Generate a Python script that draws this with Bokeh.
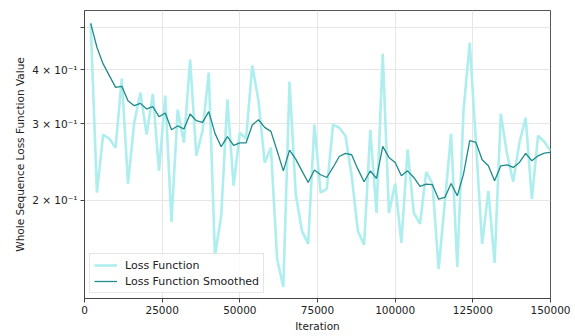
from bokeh.plotting import figure
from bokeh.models import FixedTicker, Legend, LegendItem, BasicTickFormatter
from bokeh.embed import file_html
from bokeh.resources import INLINE

iterations = [2000, 4000, 6000, 8000, 10000, 12000, 14000, 16000, 18000, 20000,
              22000, 24000, 26000, 28000, 30000, 32000, 34000, 36000, 38000, 40000,
              42000, 44000, 46000, 48000, 50000, 52000, 54000, 56000, 58000, 60000,
              62000, 64000, 66000, 68000, 70000, 72000, 74000, 76000, 78000, 80000,
              82000, 84000, 86000, 88000, 90000, 92000, 94000, 96000, 98000, 100000,
              102000, 104000, 106000, 108000, 110000, 112000, 114000, 116000, 118000, 120000,
              122000, 124000, 126000, 128000, 130000, 132000, 134000, 136000, 138000, 140000,
              142000, 144000, 146000, 148000, 150000]

loss = [0.511, 0.2084, 0.2834, 0.2773, 0.2645, 0.3814, 0.2185, 0.302, 0.354, 0.2834,
        0.352, 0.234, 0.3484, 0.1786, 0.3236, 0.2716, 0.4218, 0.2534, 0.2894, 0.3937,
        0.1491, 0.1844, 0.3411, 0.2162, 0.2863, 0.2773, 0.4086, 0.3393, 0.2443, 0.2645,
        0.1467, 0.1265, 0.3754, 0.2072, 0.1702, 0.1589, 0.2988, 0.2084, 0.2128, 0.2988,
        0.2940, 0.2818, 0.2279, 0.1702, 0.158, 0.2909, 0.1873, 0.4354, 0.1873, 0.2185,
        0.1597, 0.2617, 0.1873, 0.1767, 0.2328, 0.2185, 0.1391, 0.1986, 0.2848, 0.1406,
        0.3219, 0.4616, 0.2716, 0.1589, 0.2105, 0.1437, 0.3167, 0.2562, 0.2208, 0.2716,
        0.31, 0.2018, 0.2818, 0.2730, 0.2603]

loss_smoothed = [0.511, 0.4502, 0.4122, 0.3875, 0.3641, 0.3661, 0.3393, 0.3304, 0.3345, 0.3247,
                 0.3287, 0.3117, 0.3179, 0.2909, 0.2968, 0.292, 0.3162, 0.3051, 0.3024, 0.3201,
                 0.2853, 0.2659, 0.2804, 0.2677, 0.2712, 0.2712, 0.2984, 0.3067, 0.2945, 0.2884,
                 0.2603, 0.234, 0.2612, 0.2490, 0.234, 0.22, 0.2350, 0.2292, 0.2259, 0.2382,
                 0.2525, 0.2566, 0.2548, 0.2361, 0.2208, 0.234, 0.2247, 0.2663, 0.2512, 0.2446,
                 0.2279, 0.234, 0.2259, 0.2154, 0.2182, 0.2174, 0.2014, 0.2032, 0.2189, 0.205,
                 0.23, 0.2745, 0.272, 0.2481, 0.2403, 0.222, 0.2403, 0.2416, 0.2382, 0.2446,
                 0.2566, 0.2468, 0.2534, 0.2571, 0.2579]

x_ticks = [0, 25000, 50000, 75000, 100000, 125000, 150000]
y_ticks = [0.2, 0.3, 0.4, 0.5]
y_tick_labels = {0.2: "2 × 10⁻¹", 0.3: "3 × 10⁻¹", 0.4: "4 × 10⁻¹", 0.5: ""}

FONT = "DejaVu Sans"

p = figure(width=575, height=336, output_backend="svg", toolbar_location=None,
           y_axis_type="log", x_range=(0, 150000), y_range=(0.119, 0.547),
           min_border_left=84, min_border_right=25, min_border_top=10, min_border_bottom=38)

r1 = p.line(iterations, loss, line_color="#aeeeee", line_width=2.6)
r2 = p.line(iterations, loss_smoothed, line_color="#1f8a8a", line_width=1.3)

p.xaxis.ticker = FixedTicker(ticks=x_ticks)
p.xaxis.formatter = BasicTickFormatter(use_scientific=False)
p.yaxis.ticker = FixedTicker(ticks=y_ticks)
p.yaxis.major_label_overrides = y_tick_labels

p.xaxis.axis_label = "Iteration"
p.yaxis.axis_label = "Whole Sequence Loss Function Value"

for ax in (p.xaxis, p.yaxis):
    ax.axis_label_text_font = FONT
    ax.axis_label_text_font_size = "10.5px"
    ax.axis_label_text_font_style = "normal"
    ax.axis_label_text_color = "#222222"
    ax.major_label_text_font = FONT
    ax.major_label_text_font_size = "10.5px"
    ax.major_label_text_color = "#222222"
    ax.major_tick_out = 4
    ax.major_tick_in = 0
    ax.minor_tick_line_color = None
    ax.axis_line_color = "#444444"
    ax.major_tick_line_color = "#444444"
    ax.major_label_standoff = 3
    ax.axis_label_standoff = 3

p.outline_line_color = "#555555"
p.outline_line_width = 1
p.xgrid.grid_line_color = "#e6e6e6"
p.ygrid.grid_line_color = "#e6e6e6"
p.xgrid.ticker = FixedTicker(ticks=x_ticks)
p.ygrid.ticker = FixedTicker(ticks=y_ticks)

legend = Legend(items=[LegendItem(label="Loss Function", renderers=[r1]),
                       LegendItem(label="Loss Function Smoothed", renderers=[r2])],
                location="bottom_left")
legend.label_text_font = FONT
legend.label_text_font_size = "11px"
legend.label_text_color = "#222222"
legend.margin = 5
legend.padding = 4
legend.spacing = 2
legend.glyph_width = 23
legend.glyph_height = 14
legend.label_height = 14
legend.label_standoff = 8
legend.border_line_color = "#cccccc"
legend.background_fill_alpha = 0.85
p.add_layout(legend)

open("out.html", "w").write(file_html(p, INLINE))
